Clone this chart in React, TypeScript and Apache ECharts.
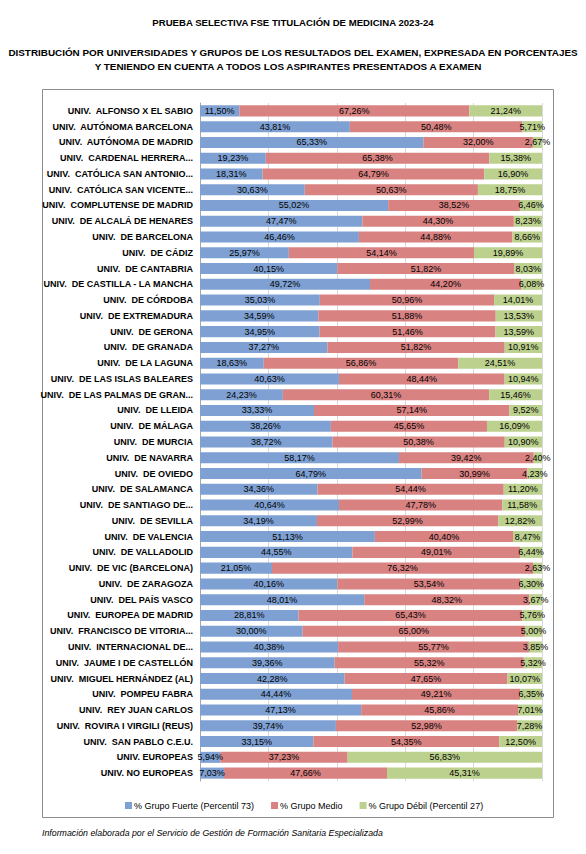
import React, { useEffect, useRef } from "react";
import * as echarts from "echarts";

const categories = [
  "UNIV.  ALFONSO X EL SABIO",
  "UNIV.  AUTÓNOMA BARCELONA",
  "UNIV.  AUTÓNOMA DE MADRID",
  "UNIV.  CARDENAL HERRERA...",
  "UNIV.  CATÓLICA SAN ANTONIO...",
  "UNIV.  CATÓLICA SAN VICENTE...",
  "UNIV.  COMPLUTENSE DE MADRID",
  "UNIV.  DE ALCALÁ DE HENARES",
  "UNIV.  DE BARCELONA",
  "UNIV.  DE CÁDIZ",
  "UNIV.  DE CANTABRIA",
  "UNIV.  DE CASTILLA - LA MANCHA",
  "UNIV.  DE CÓRDOBA",
  "UNIV.  DE EXTREMADURA",
  "UNIV.  DE GERONA",
  "UNIV.  DE GRANADA",
  "UNIV.  DE LA LAGUNA",
  "UNIV.  DE LAS ISLAS BALEARES",
  "UNIV.  DE LAS PALMAS DE GRAN...",
  "UNIV.  DE LLEIDA",
  "UNIV.  DE MÁLAGA",
  "UNIV.  DE MURCIA",
  "UNIV.  DE NAVARRA",
  "UNIV.  DE OVIEDO",
  "UNIV.  DE SALAMANCA",
  "UNIV.  DE SANTIAGO DE...",
  "UNIV.  DE SEVILLA",
  "UNIV.  DE VALENCIA",
  "UNIV.  DE VALLADOLID",
  "UNIV.  DE VIC (BARCELONA)",
  "UNIV.  DE ZARAGOZA",
  "UNIV.  DEL PAÍS VASCO",
  "UNIV.  EUROPEA DE MADRID",
  "UNIV.  FRANCISCO DE VITORIA...",
  "UNIV.  INTERNACIONAL DE...",
  "UNIV.  JAUME I DE CASTELLÓN",
  "UNIV.  MIGUEL HERNÁNDEZ (AL)",
  "UNIV.  POMPEU FABRA",
  "UNIV.  REY JUAN CARLOS",
  "UNIV.  ROVIRA I VIRGILI (REUS)",
  "UNIV.  SAN PABLO C.E.U.",
  "UNIV. EUROPEAS",
  "UNIV. NO EUROPEAS",
];

const fuerte = [
  11.5, 43.81, 65.33, 19.23, 18.31, 30.63, 55.02, 47.47, 46.46, 25.97,
  40.15, 49.72, 35.03, 34.59, 34.95, 37.27, 18.63, 40.63, 24.23, 33.33,
  38.26, 38.72, 58.17, 64.79, 34.36, 40.64, 34.19, 51.13, 44.55, 21.05,
  40.16, 48.01, 28.81, 30.0, 40.38, 39.36, 42.28, 44.44, 47.13, 39.74,
  33.15, 5.94, 7.03,
];

const medio = [
  67.26, 50.48, 32.0, 65.38, 64.79, 50.63, 38.52, 44.3, 44.88, 54.14,
  51.82, 44.2, 50.96, 51.88, 51.46, 51.82, 56.86, 48.44, 60.31, 57.14,
  45.65, 50.38, 39.42, 30.99, 54.44, 47.78, 52.99, 40.4, 49.01, 76.32,
  53.54, 48.32, 65.43, 65.0, 55.77, 55.32, 47.65, 49.21, 45.86, 52.98,
  54.35, 37.23, 47.66,
];

const debil = [
  21.24, 5.71, 2.67, 15.38, 16.9, 18.75, 6.46, 8.23, 8.66, 19.89,
  8.03, 6.08, 14.01, 13.53, 13.59, 10.91, 24.51, 10.94, 15.46, 9.52,
  16.09, 10.9, 2.4, 4.23, 11.2, 11.58, 12.82, 8.47, 6.44, 2.63,
  6.3, 3.67, 5.76, 5.0, 3.85, 5.32, 10.07, 6.35, 7.01, 7.28,
  12.5, 56.83, 45.31,
];

const seriesNames = [
  "% Grupo Fuerte (Percentil 73)",
  "% Grupo Medio",
  "% Grupo Débil (Percentil 27)",
];

const titleText = "PRUEBA SELECTIVA FSE TITULACIÓN DE MEDICINA 2023-24";
const subtitleLines = [
  "DISTRIBUCIÓN POR UNIVERSIDADES Y GRUPOS DE LOS RESULTADOS DEL EXAMEN, EXPRESADA EN PORCENTAJES",
  "Y TENIENDO EN CUENTA A TODOS LOS ASPIRANTES PRESENTADOS A EXAMEN",
];
const footnote =
  "Información elaborada por el Servicio de Gestión de Formación Sanitaria Especializada";

const FONT = "'Liberation Sans Narrow', 'Liberation Sans', Arial, sans-serif";

const fmt = (v: number) => v.toFixed(2).replace(".", ",") + "%";

export default function App() {
  const ref = useRef<HTMLDivElement>(null);

  useEffect(() => {
    if (!ref.current) return;
    const chart = echarts.init(ref.current, undefined, { renderer: "svg" });
    const colors = ["#7ea0d3", "#d98282", "#bdd18f"];
    const dataSets = [fuerte, medio, debil];

    const headStyle = {
      fontFamily: FONT,
      fontWeight: "bold",
      fill: "#000",
      align: "center",
      verticalAlign: "middle",
    };

    chart.setOption({
      animation: false,
      backgroundColor: "#ffffff",
      textStyle: { fontFamily: FONT },
      graphic: [
        {
          type: "text",
          x: 293,
          y: 22,
          style: { ...headStyle, fontSize: 9.6, text: titleText },
        },
        {
          type: "text",
          x: 293,
          y: 52,
          style: { ...headStyle, fontSize: 9.9, text: subtitleLines[0] },
        },
        {
          type: "text",
          x: 288,
          y: 66,
          style: { ...headStyle, fontSize: 9.9, text: subtitleLines[1] },
        },
        {
          type: "rect",
          shape: { x: 42.5, y: 89.5, width: 511, height: 728 },
          style: { fill: "none", stroke: "#8c8c8c", lineWidth: 1 },
          z: -1,
        },
        {
          type: "text",
          x: 42,
          y: 833,
          style: {
            text: footnote,
            fontFamily: "'Liberation Sans', Arial, sans-serif",
            fontSize: 8.8,
            fontStyle: "italic",
            fill: "#000",
            verticalAlign: "middle",
          },
        },
      ],
      legend: {
        data: seriesNames,
        top: 796,
        left: 120,
        itemWidth: 7,
        itemHeight: 7,
        itemGap: 17,
        icon: "rect",
        textStyle: { fontFamily: FONT, fontSize: 9, color: "#000", padding: [0, 0, 0, -3] },
      },
      grid: { left: 200, right: 44, top: 103, bottom: 73 },
      xAxis: {
        type: "value",
        min: 0,
        max: 100,
        interval: 20,
        axisLabel: { show: false },
        axisLine: { show: false },
        axisTick: { show: false },
        splitLine: { show: true, lineStyle: { color: "#d9d9d9", width: 1 } },
      },
      yAxis: {
        type: "category",
        data: categories,
        inverse: true,
        axisLine: { show: true, lineStyle: { color: "#a6a6a6" } },
        axisTick: { show: false },
        axisLabel: {
          fontFamily: FONT,
          fontSize: 9,
          fontWeight: "bold",
          color: "#000",
          margin: 7,
          interval: 0,
        },
      },
      series: dataSets.map((d, i) => ({
        name: seriesNames[i],
        type: "bar",
        stack: "total",
        data: d,
        barCategoryGap: "30%",
        itemStyle: { color: colors[i] },
        label: {
          show: true,
          position: "inside",
          fontFamily: FONT,
          fontSize: 9,
          color: "#000",
          formatter: (p: any) => fmt(p.value),
        },
      })),
    });
    return () => chart.dispose();
  }, []);

  return (
    <div
      ref={ref}
      style={{ position: "fixed", left: 0, top: 0, width: 586, height: 854 }}
    />
  );
}
